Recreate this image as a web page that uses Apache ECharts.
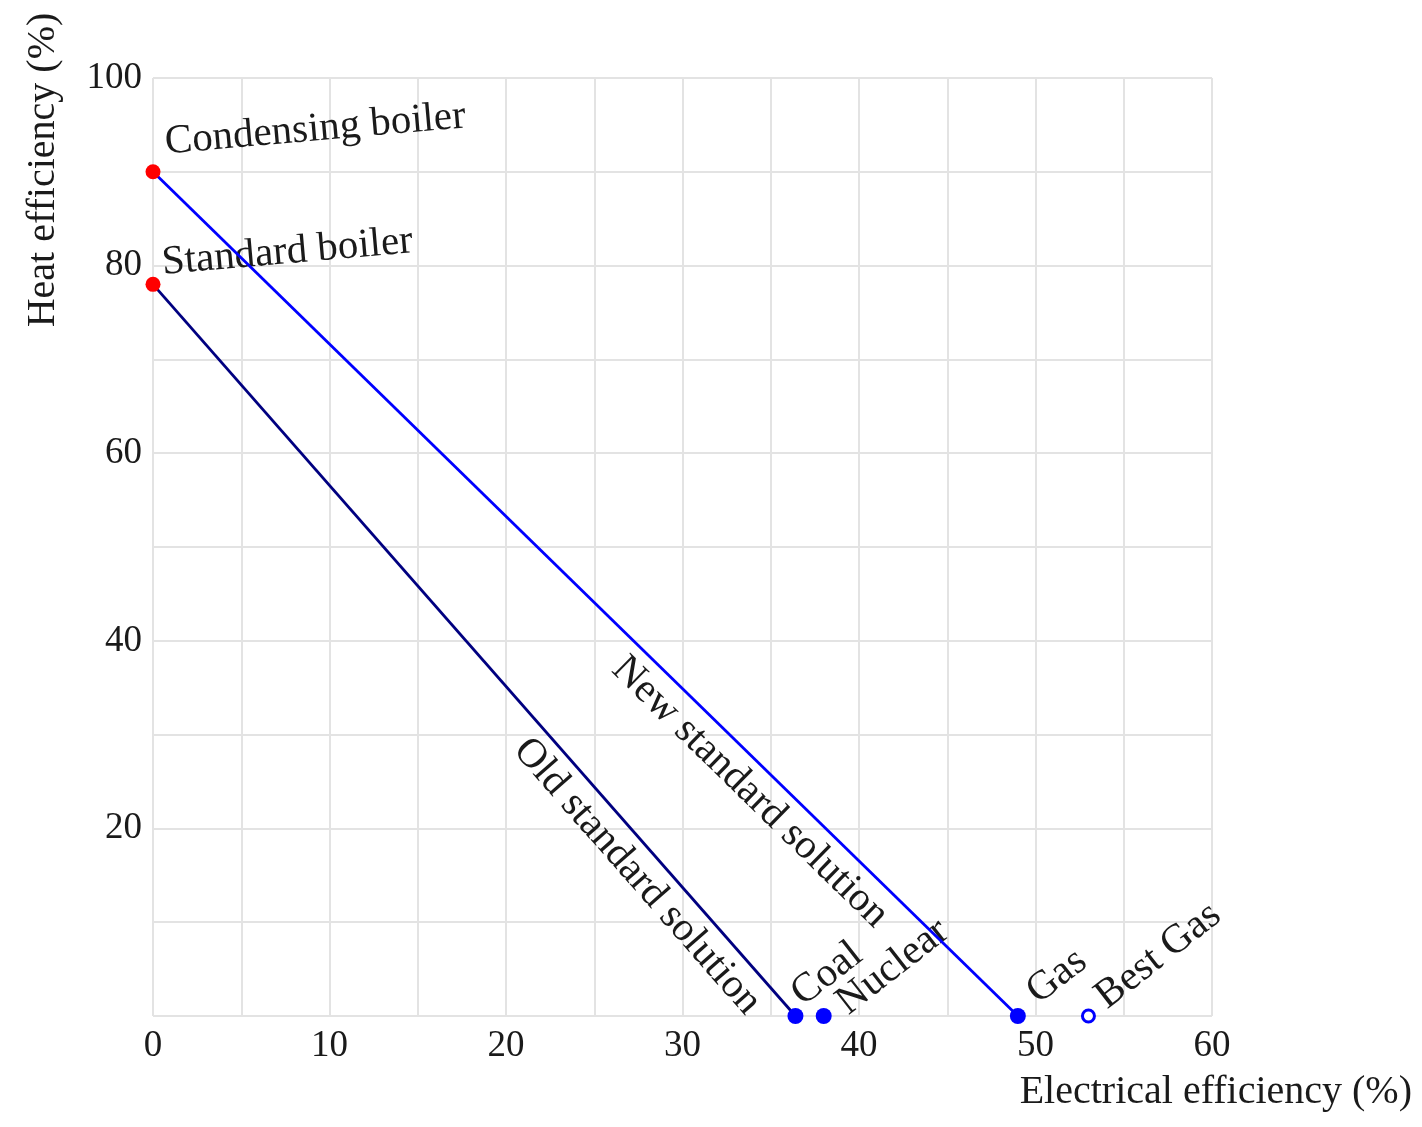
<!DOCTYPE html>
<html>
<head>
<meta charset="utf-8">
<title>Heat vs electrical efficiency</title>
<script src="https://cdn.jsdelivr.net/npm/echarts@6/dist/echarts.min.js"></script>
<style>
  html, body { margin: 0; padding: 0; background: #ffffff; }
  #chart { width: 1422px; height: 1127px; }
</style>
</head>
<body>
<div id="chart"></div>
<script>
// Boilers: heat only (electrical efficiency 0)
const boilerNames = ['Condensing boiler', 'Standard boiler'];
const boilerHeat = [90, 78];
// Power plants: electricity only (heat efficiency 0)
const plantNames = ['Coal', 'Nuclear', 'Gas', 'Best Gas'];
const plantElec = [36.4, 38, 49, 53];
// Each solution line joins a boiler to a plant
const solutionNames = ['Old standard solution', 'New standard solution'];
const solutionLinks = [['Standard boiler', 'Coal'], ['Condensing boiler', 'Gas']];
// Labelled ticks
const xTicks = [0, 10, 20, 30, 40, 50, 60];
const yTicks = [20, 40, 60, 80, 100];

const FONT = '"Liberation Serif", "DejaVu Serif", serif';
const TEXT = '#1a1a1a';
const GRIDLINE = '#e3e3e3';
const ANNOT_FONT = '41px ' + FONT;

const solutionColors = { 'Old standard solution': '#000080', 'New standard solution': '#0000ff' };
const hollowPlants = ['Best Gas'];

// label placement: pixel offset from the point, rotation in degrees
const pointLabelStyle = {
  'Condensing boiler': { dx: 12, dy: -29, rot: 5 },
  'Standard boiler':   { dx: 9,  dy: -21, rot: 5 },
  'Coal':              { dx: 1,  dy: -18, rot: 38 },
  'Nuclear':           { dx: 18, dy: -9,  rot: 38 },
  'Gas':               { dx: 14, dy: -20, rot: 38 },
  'Best Gas':          { dx: 12, dy: -15, rot: 38 }
};
// line labels: fraction along the line and perpendicular offset (px, below-left)
const lineLabelStyle = {
  'Old standard solution': { t: 0.785, off: 27 },
  'New standard solution': { t: 0.712, off: 27 }
};

const pointOf = {};
boilerNames.forEach((n, i) => { pointOf[n] = [0, boilerHeat[i]]; });
plantNames.forEach((n, i) => { pointOf[n] = [plantElec[i], 0]; });

const chart = echarts.init(document.getElementById('chart'), null, { renderer: 'canvas' });

const axisCommon = {
  type: 'value',
  axisLine: { show: false },
  axisTick: { show: false },
  splitLine: { show: true, lineStyle: { color: GRIDLINE, width: 2 } },
  axisLabel: { color: TEXT, fontFamily: FONT, fontSize: 37 }
};

const series = [];
solutionNames.forEach((name, i) => {
  const [a, b] = solutionLinks[i];
  series.push({
    name: name,
    type: 'line',
    data: [pointOf[a], pointOf[b]],
    symbol: 'none',
    clip: false,
    z: 3,
    lineStyle: { color: solutionColors[name], width: 2.8 }
  });
});
series.push({
  name: 'Boilers',
  type: 'scatter',
  data: boilerNames.map((n, i) => ({ name: n, value: [0, boilerHeat[i]] })),
  symbol: 'circle',
  symbolSize: 15,
  clip: false,
  z: 4,
  itemStyle: { color: '#ff0000', opacity: 1 }
});
series.push({
  name: 'Plants',
  type: 'scatter',
  data: plantNames.map((n, i) => {
    const hollow = hollowPlants.includes(n);
    return {
      name: n,
      value: [plantElec[i], 0],
      symbolSize: hollow ? 12 : 16,
      itemStyle: hollow
        ? { color: '#ffffff', borderColor: '#0000ff', borderWidth: 3, opacity: 1 }
        : { color: '#0000ff', opacity: 1 }
    };
  }),
  symbol: 'circle',
  clip: false,
  z: 4
});

chart.setOption({
  animation: false,
  backgroundColor: '#ffffff',
  grid: { left: 153, right: 210, top: 78, bottom: 111, containLabel: false, outerBoundsMode: 'none' },
  xAxis: Object.assign({}, axisCommon, {
    min: 0, max: 60, interval: 5,
    axisLabel: Object.assign({}, axisCommon.axisLabel, {
      margin: 12,
      formatter: v => (xTicks.includes(v) ? String(v) : '')
    })
  }),
  yAxis: Object.assign({}, axisCommon, {
    min: 0, max: 100, interval: 10,
    axisLabel: Object.assign({}, axisCommon.axisLabel, {
      margin: 11,
      formatter: v => (yTicks.includes(v) ? String(v) : '')
    })
  }),
  series: series
});

// Text annotations placed from data coordinates
function px(p) { return chart.convertToPixel({ gridIndex: 0 }, p); }
const graphics = [];

Object.keys(pointLabelStyle).forEach(name => {
  const s = pointLabelStyle[name];
  const p = px(pointOf[name]);
  graphics.push({
    type: 'text', z: 1,
    x: p[0] + s.dx, y: p[1] + s.dy,
    rotation: s.rot * Math.PI / 180,
    style: { text: name, fill: TEXT, font: ANNOT_FONT, align: 'left', verticalAlign: 'middle' }
  });
});

solutionNames.forEach((name, i) => {
  const [a, b] = solutionLinks[i];
  const p0 = px(pointOf[a]), p1 = px(pointOf[b]);
  const dx = p1[0] - p0[0], dy = p1[1] - p0[1];
  const len = Math.hypot(dx, dy);
  const ux = dx / len, uy = dy / len;
  const nx = -uy, ny = ux;
  const s = lineLabelStyle[name];
  graphics.push({
    type: 'text', z: 1,
    x: p0[0] + ux * s.t * len + nx * s.off,
    y: p0[1] + uy * s.t * len + ny * s.off,
    rotation: -Math.atan2(dy, dx),
    style: { text: name, fill: TEXT, font: ANNOT_FONT, align: 'center', verticalAlign: 'middle' }
  });
});

// Axis titles
graphics.push({
  type: 'text', x: 1412, y: 1092,
  style: { text: 'Electrical efficiency (%)', fill: TEXT, font: '40px ' + FONT, align: 'right', verticalAlign: 'middle' }
});
graphics.push({
  type: 'text', x: 43, y: 170, rotation: Math.PI / 2,
  style: { text: 'Heat efficiency (%)', fill: TEXT, font: '40px ' + FONT, align: 'center', verticalAlign: 'middle' }
});

chart.setOption({ graphic: { elements: graphics } });
</script>
</body>
</html>
